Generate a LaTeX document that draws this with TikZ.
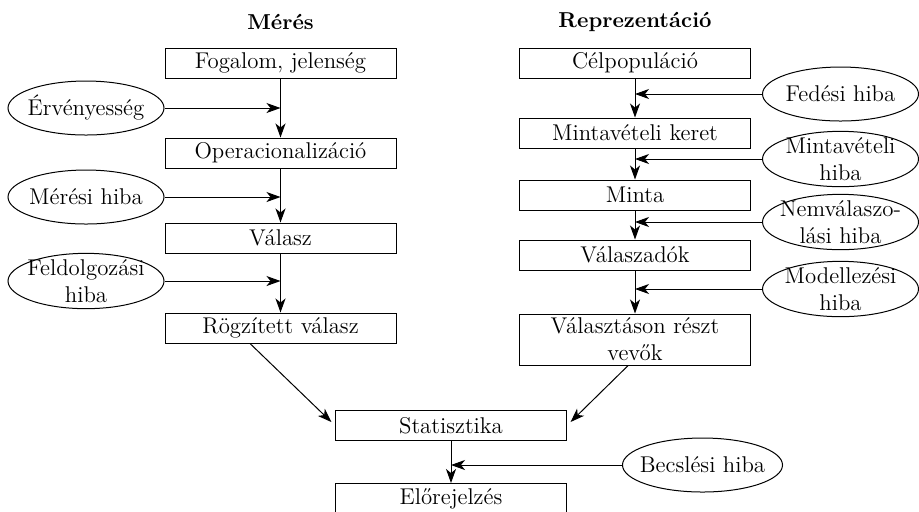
\documentclass[tikz,border=0pt]{standalone}
\usepackage{tikz}
\usetikzlibrary{arrows.meta,positioning,calc,shapes.geometric}

\begin{document}
\begin{tikzpicture}[x=1pt,y=1pt,node distance=20pt,
  box/.style={draw,line width=0.5pt,text width=111.5pt,minimum height=15pt,inner sep=2pt,align=center,font=\fontsize{11.4}{13.5}\selectfont},
  err/.style={draw,ellipse,line width=0.5pt,minimum width=78pt,minimum height=27pt,inner xsep=-3pt,inner ysep=-1pt,align=center,font=\fontsize{11.4}{13.5}\selectfont},
  head/.style={font=\fontsize{10.8}{12}\selectfont\bfseries},
  arr/.style={-{Stealth[length=7pt,width=5pt,inset=2pt]},line width=0.5pt}]
\useasboundingbox (0,0) rectangle (459.5,-255.5);
\node[head] (mer) at (140.25,-11) {Mérés};
\node[head] (rep) at (317.5,-11) {Reprezentáció};
\node[box] (fog) at (140.25,-31.5) {Fogalom, jelenség};
\node[box,below=29.5pt of fog] (op) {Operacionalizáció};
\node[box,below=27pt of op] (val) {Válasz};
\node[box,below=29.5pt of val] (rog) {Rögzített válasz};
\node[box] (cel) at (317.5,-31.5) {Célpopuláció};
\node[box,below=19.5pt of cel] (ker) {Mintavételi keret};
\node[box,below=15.5pt of ker] (mta) {Minta};
\node[box,below=14.5pt of mta] (vad) {Válaszadók};
\node[box,below=21.5pt of vad] (res) {Választáson részt\\vevők};
\node[box] (stat) at (225.5,-212.75) {Statisztika};
\node[box,below=21pt of stat] (elo) {Előrejelzés};
\node[err] (erv) at (43,-54) {Érvényesség};
\node[err] (mhib) at (43,-98.5) {Mérési hiba};
\node[err] (fhib) at (43,-140.5) {Feldolgozási\\hiba};
\node[err] (fed) at (420.25,-47) {Fedési hiba};
\node[err] (mvh) at (420.25,-79.5) {Mintavételi\\hiba};
\node[err] (nvh) at (420.25,-111) {Nemválaszo-\\lási hiba};
\node[err] (mod) at (420.25,-144.5) {Modellezési\\hiba};
\node[err] (becs) at (351.25,-232.5) {Becslési hiba};
\draw[arr] (fog)--(op); \draw[arr] (op)--(val); \draw[arr] (val)--(rog);
\draw[arr] (cel)--(ker); \draw[arr] (ker)--(mta); \draw[arr] (mta)--(vad); \draw[arr] (vad)--(res);
\draw[arr] (stat)--(elo);
\draw[arr] (erv)--(erv-|fog); \draw[arr] (mhib)--(mhib-|fog); \draw[arr] (fhib)--(fhib-|fog);
\draw[arr] (fed)--(fed-|cel); \draw[arr] (mvh)--(mvh-|cel); \draw[arr] (nvh)--(nvh-|cel); \draw[arr] (mod)--(mod-|cel);
\draw[arr] (becs)--(becs-|stat);
\draw[arr,shorten >=2.5pt] ([xshift=-15.25pt]rog.south)--(stat.west);
\draw[arr,shorten >=2.5pt] ([xshift=-3.5pt]res.south)--(stat.east);
\end{tikzpicture}
\end{document}
